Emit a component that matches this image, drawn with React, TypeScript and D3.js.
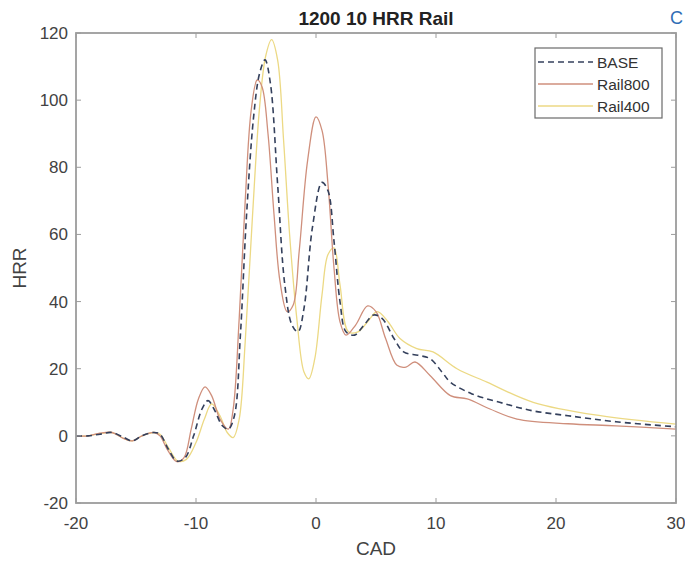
import React, { useEffect, useRef } from 'react';
import * as d3 from 'd3';

// x ticks / y ticks as printed on the axes
const xTicks = [-20, -10, 0, 10, 20, 30];
const yTicks = [-20, 0, 20, 40, 60, 80, 100, 120];

// BASE (dashed)
const baseCad = [-20, -19, -18, -17, -16, -15.3, -14.5, -13.5, -13, -12.3, -11.6, -10.9, -10.2, -9.5, -9, -8.5, -7.8, -7.3, -6.8, -6.3, -5.8, -5.2, -4.7, -4.25, -3.8, -3.2, -2.6, -2, -1.5, -1, -0.3, 0.5, 1, 1.5, 2, 2.5, 3.2, 4, 4.8, 5.5, 6.5, 7.3, 8.5, 9.5, 10.5, 11.2, 13, 15.3, 18, 21, 25, 30];
const baseHrr = [0, 0, 0.5, 1, -0.5, -1.5, 0, 1, 0.5, -4, -7.5, -6.5, 0, 8, 10.5, 8, 3, 2, 6, 30, 65, 95, 108, 112, 105, 75, 45, 33, 31, 38, 62, 75.5, 73, 58, 40, 31, 30, 33, 36, 35, 29, 25, 24, 23, 19, 16, 12.5, 10, 7.5, 6, 4.2, 2.7];

// Rail800 (solid, reddish)
const rail800Cad = [-20, -19, -18, -17, -16, -15.3, -14.5, -13.5, -13, -12.4, -11.6, -11, -10.4, -9.8, -9.25, -8.7, -8, -7.3, -6.9, -6.4, -5.9, -5.4, -4.9, -4.5, -4, -3.5, -3, -2.4, -1.9, -1.4, -0.7, 0, 0.5, 1, 1.5, 2, 2.5, 3.3, 4.3, 5, 5.8, 6.75, 7.5, 8.25, 9.5, 11.2, 12.6, 14.5, 16.75, 21, 25, 30];
const rail800Hrr = [0, 0, 0.8, 1, -0.8, -1.5, 0, 1, 0, -4, -7.7, -6.5, 2, 11, 14.6, 12, 5, 2, 8, 35, 70, 97, 106, 104, 90, 66, 46, 37, 39, 55, 82, 95, 91, 75, 50, 34, 30, 33, 38.7, 37, 29, 21, 20.5, 22, 18, 12, 11, 8, 5, 3.6, 3, 2];

// Rail400 (solid, yellow)
const rail400Cad = [-20, -19, -18, -17, -16, -15.3, -14.5, -13.5, -13, -12.3, -11.5, -10.8, -10, -9.3, -8.7, -8, -7.4, -6.9, -6.4, -5.9, -5.3, -4.7, -4.2, -3.7, -3.2, -2.7, -2.2, -1.6, -1, -0.6, -0.1, 0.5, 1, 1.5, 2, 2.7, 3.5, 4.3, 5.1, 6, 7, 8.4, 9.75, 11.75, 14.25, 18.1, 23.7, 30];
const rail400Hrr = [0, 0, 0.7, 1, -0.8, -1.5, 0, 1, 0.5, -3.5, -7.5, -7, -2, 5, 9.5, 6, 1, -0.5, 5, 28, 65, 98, 113, 118, 112, 88, 60, 35, 19, 17, 23, 42, 54, 56, 45, 31, 31, 34, 37, 34, 29, 26, 25, 20, 16, 10, 6, 3.5];

const seriesNames = ['BASE', 'Rail800', 'Rail400'];
const seriesColors = ['#34405c', '#cf8f7c', '#ecd984'];
const seriesDash = ['6,4', null, null];

const W = 685;
const H = 561;
const M = { left: 76, right: 9, top: 33, bottom: 58 };

export default function App() {
  const svgRef = useRef<SVGSVGElement>(null);

  useEffect(() => {
    const svg = d3.select(svgRef.current);
    svg.selectAll('*').remove();

    const x = d3.scaleLinear().domain([-20, 30]).range([M.left, W - M.right]);
    const y = d3.scaleLinear().domain([-20, 120]).range([H - M.bottom, M.top]);

    const font = 'Liberation Sans, Arial, sans-serif';
    const axisColor = '#9c9c9c';
    const textColor = '#424242';

    // lines
    const series = [
      baseCad.map((c, i) => [c, baseHrr[i]]),
      rail800Cad.map((c, i) => [c, rail800Hrr[i]]),
      rail400Cad.map((c, i) => [c, rail400Hrr[i]]),
    ];
    const line = d3
      .line<number[]>()
      .x(d => x(d[0]))
      .y(d => y(d[1]))
      .curve(d3.curveCatmullRom.alpha(0.5));

    const g = svg.append('g');
    // draw yellow, red, then dashed on top
    [2, 1, 0].forEach(k => {
      g.append('path')
        .attr('d', line(series[k] as number[][]))
        .attr('fill', 'none')
        .attr('stroke', seriesColors[k])
        .attr('stroke-width', k === 0 ? 1.6 : 1.3)
        .attr('stroke-dasharray', seriesDash[k] as any);
    });

    // box
    svg.append('rect')
      .attr('x', M.left)
      .attr('y', M.top)
      .attr('width', W - M.right - M.left)
      .attr('height', H - M.bottom - M.top)
      .attr('fill', 'none')
      .attr('stroke', axisColor)
      .attr('stroke-width', 1.8);

    // ticks inward on all sides
    const tl = 5;
    xTicks.forEach(t => {
      svg.append('line').attr('x1', x(t)).attr('x2', x(t)).attr('y1', y(-20)).attr('y2', y(-20) - tl).attr('stroke', axisColor);
      svg.append('line').attr('x1', x(t)).attr('x2', x(t)).attr('y1', y(120)).attr('y2', y(120) + tl).attr('stroke', axisColor);
      svg.append('text')
        .attr('x', x(t))
        .attr('y', 529)
        .attr('text-anchor', 'middle')
        .style('font-family', font)
        .style('font-size', '17px')
        .style('fill', textColor)
        .text(t);
    });
    yTicks.forEach(t => {
      svg.append('line').attr('x1', x(-20)).attr('x2', x(-20) + tl).attr('y1', y(t)).attr('y2', y(t)).attr('stroke', axisColor);
      svg.append('line').attr('x1', x(30)).attr('x2', x(30) - tl).attr('y1', y(t)).attr('y2', y(t)).attr('stroke', axisColor);
      svg.append('text')
        .attr('x', x(-20) - 8)
        .attr('y', y(t) + 6)
        .attr('text-anchor', 'end')
        .style('font-family', font)
        .style('font-size', '17px')
        .style('fill', textColor)
        .text(t);
    });

    // title and axis labels
    svg.append('text')
      .attr('x', (M.left + W - M.right) / 2)
      .attr('y', 25)
      .attr('text-anchor', 'middle')
      .style('font-family', font)
      .style('font-size', '19px')
      .style('font-weight', 'bold')
      .style('fill', '#222')
      .text('1200 10 HRR Rail');
    svg.append('text')
      .attr('x', (M.left + W - M.right) / 2)
      .attr('y', 555)
      .attr('text-anchor', 'middle')
      .style('font-family', font)
      .style('font-size', '19px')
      .style('fill', textColor)
      .text('CAD');
    svg.append('text')
      .attr('transform', `translate(26, ${y(50)}) rotate(-90)`)
      .attr('text-anchor', 'middle')
      .style('font-family', font)
      .style('font-size', '19px')
      .style('fill', textColor)
      .text('HRR');

    // legend
    const lg = svg.append('g').attr('transform', 'translate(535, 48)');
    lg.append('rect')
      .attr('width', 127)
      .attr('height', 70)
      .attr('fill', 'white')
      .attr('stroke', '#6a6a6a')
      .attr('stroke-width', 1.2);
    seriesNames.forEach((name, i) => {
      const ly = 14 + i * 22;
      lg.append('line')
        .attr('x1', 3)
        .attr('x2', 58)
        .attr('y1', ly)
        .attr('y2', ly)
        .attr('stroke', seriesColors[i])
        .attr('stroke-width', i === 0 ? 1.5 : 1.3)
        .attr('stroke-dasharray', seriesDash[i] as any);
      lg.append('text')
        .attr('x', 62)
        .attr('y', ly + 6)
        .style('font-family', font)
        .style('font-size', '15.5px')
        .style('fill', '#333')
        .text(name);
    });

    // cut-off letter from the neighbouring figure
    svg.append('text')
      .attr('x', 670)
      .attr('y', 24)
      .style('font-family', font)
      .style('font-size', '18px')
      .style('fill', '#2f6db5')
      .text('C');
  }, []);

  return (
    <div style={{ position: 'absolute', left: 0, top: 0, background: 'white' }}>
      <svg ref={svgRef} width={W} height={H}></svg>
    </div>
  );
}
